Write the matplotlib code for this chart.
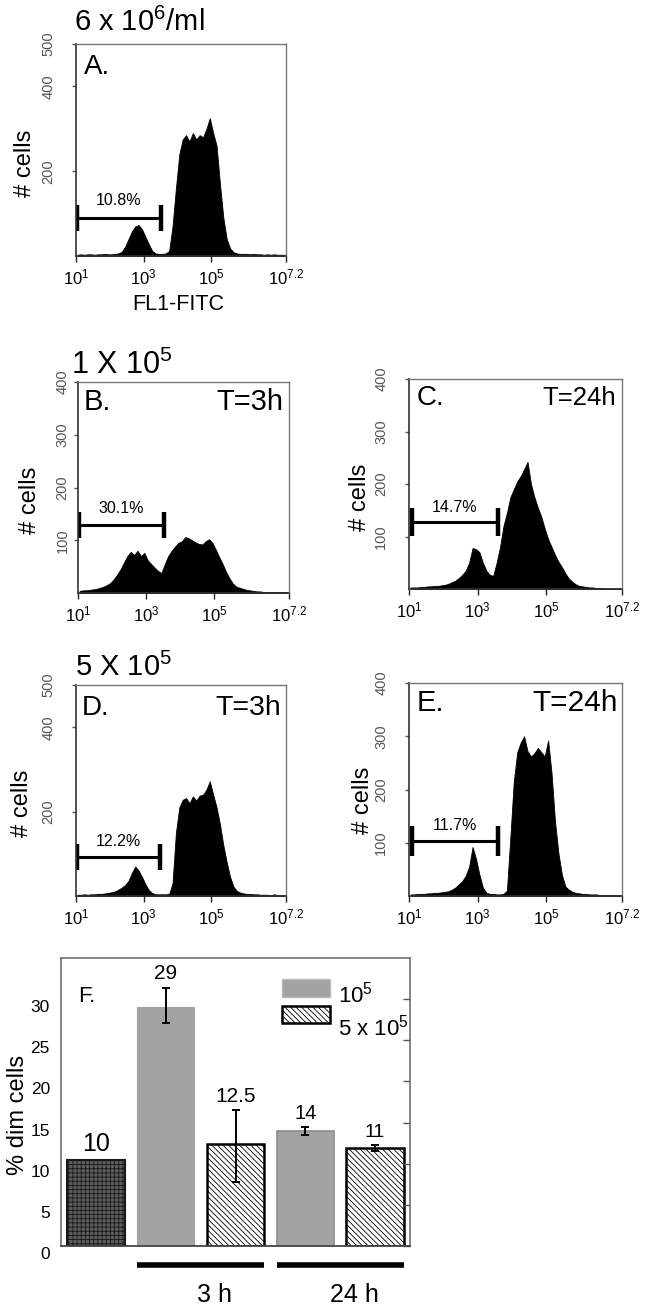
import numpy as np
import matplotlib
matplotlib.use('Agg')
import matplotlib.pyplot as plt
from matplotlib.patches import Rectangle
import matplotlib.transforms as mtransforms

plt.rcParams['font.family'] = ['Liberation Sans', 'DejaVu Sans']
plt.rcParams['mathtext.fontset'] = 'custom'
plt.rcParams['mathtext.rm'] = 'Liberation Sans'
plt.rcParams['mathtext.it'] = 'Liberation Sans:italic'
plt.rcParams['mathtext.default'] = 'regular'
plt.rcParams['hatch.linewidth'] = 0.6

# ---------------- data ----------------
log_edges = np.linspace(1.0, 7.2, 63)          # log10(FL1) bin edges
x_ticks = [1, 3, 5, 7.2]
x_ticklabels = ['$10^{1}$', '$10^{3}$', '$10^{5}$', '$10^{7.2}$']

hist_A = [3, 4, 3, 4, 4, 3, 4, 4, 5, 4,
          4, 5, 6, 10, 22, 40, 58, 70, 73, 63,
          45, 28, 12, 6, 5, 5, 6, 12, 70, 160,
          240, 275, 285, 270, 290, 275, 285, 280, 300, 325,
          290, 260, 170, 90, 40, 18, 9, 6, 5, 5,
          5, 4, 5, 4, 4, 3, 4, 3, 4, 3, 3, 3]
hist_B = [4, 5, 5, 6, 7, 8, 10, 12, 15, 19,
          26, 35, 45, 58, 70, 78, 72, 80, 70, 76,
          62, 55, 48, 42, 38, 55, 70, 80, 88, 95,
          98, 106, 104, 100, 96, 93, 92, 98, 102, 95,
          82, 68, 55, 40, 28, 18, 12, 10, 8, 6,
          5, 4, 3, 3, 2, 2, 2, 2, 2, 2, 2, 2]
hist_C = [3, 3, 3, 4, 4, 5, 5, 6, 6, 7,
          8, 10, 13, 16, 21, 27, 35, 50, 78, 76,
          70, 50, 35, 27, 25, 50, 80, 120, 145, 175,
          190, 205, 215, 228, 242, 200, 175, 155, 138, 115,
          95, 80, 65, 52, 42, 30, 20, 14, 9, 6,
          5, 4, 3, 3, 2, 2, 1, 1, 1, 1, 1, 1]
hist_D = [3, 3, 4, 3, 4, 4, 5, 5, 6, 7,
          9, 11, 15, 20, 26, 36, 55, 70, 60, 45,
          28, 14, 7, 4, 4, 4, 4, 5, 30, 150,
          210, 228, 232, 220, 236, 226, 238, 240, 252, 272,
          240, 210, 170, 120, 80, 45, 22, 12, 8, 6,
          5, 5, 4, 4, 3, 3, 3, 2, 4, 2, 2, 2]
hist_E = [3, 3, 4, 4, 4, 5, 5, 6, 6, 7,
          8, 9, 12, 16, 22, 28, 38, 55, 92, 70,
          40, 16, 6, 4, 4, 3, 3, 4, 10, 110,
          215, 270, 288, 300, 272, 262, 268, 278, 270, 262,
          292, 230, 140, 80, 40, 18, 12, 8, 6, 5,
          4, 4, 3, 3, 3, 2, 2, 2, 2, 2, 2, 2]

# gate markers (log start, log end, y level, cap half height) and % labels
gate_start = [1.02, 1.02, 1.08, 1.02, 1.08]
gate_end = [3.51, 3.53, 3.59, 3.48, 3.59]
gate_y = [90, 129, 128, 92, 103]
gate_cap = [31, 25, 27, 31, 28]
pct_labels = ['10.8%', '30.1%', '14.7%', '12.2%', '11.7%']
pct_y = [132, 161, 156, 128, 133]

# panel F
bar_pos = [0, 1, 2, 3, 4]
bar_vals = [10.4, 29.0, 12.4, 14.0, 11.9]
err_low = [10.4, 27.1, 7.8, 13.5, 11.5]
err_high = [10.4, 31.4, 16.5, 14.5, 12.3]
bar_text = ['10', '29', '12.5', '14', '11']
f_yticks = [0, 5, 10, 15, 20, 25, 30]
legend_labels = ['$10^{5}$', '5 x $10^{5}$']
group_labels = ['3 h', '24 h']

# ---------------- layout ----------------
W, H = 650, 1309
fig = plt.figure(figsize=(W / 100, H / 100), dpi=100)


def px_box(l, t, r, b):
    return [l / W, 1 - b / H, (r - l) / W, (b - t) / H]


def ftext(x, y, s, **kw):
    return fig.text(x / W, 1 - y / H, s, **kw)


def hist_panel(box, counts, ymax, yticks, i, ypad):
    ax = fig.add_axes(px_box(*box))
    centers = (log_edges[:-1] + log_edges[1:]) / 2
    ax.fill_between(centers, counts, 0, color='black', lw=0.6,
                    edgecolor='black')
    ax.set_xlim(1, 7.2)
    ax.set_ylim(0, ymax)
    ax.set_xticks(x_ticks)
    ax.set_xticklabels(x_ticklabels, fontsize=12)
    ax.set_yticks(yticks)
    ax.set_yticklabels([str(v) for v in yticks], rotation=90, va='center',
                       fontsize=10.5, color='#3a3a3a')
    ax.tick_params(axis='x', length=4, width=1, pad=4, colors='#222222',
                   labelcolor='black')
    ax.tick_params(axis='y', length=3, width=1, pad=ypad, colors='#555555')
    for s in ['top', 'right']:
        ax.spines[s].set_color('#777777')
        ax.spines[s].set_linewidth(1.0)
    for s in ['left', 'bottom']:
        ax.spines[s].set_color('#333333')
        ax.spines[s].set_linewidth(1.2)
    # gate
    ax.plot([gate_start[i], gate_end[i]], [gate_y[i], gate_y[i]],
            color='black', lw=2.2, solid_capstyle='butt')
    for gx in (gate_start[i], gate_end[i]):
        ax.plot([gx, gx], [gate_y[i] - gate_cap[i], gate_y[i] + gate_cap[i]],
                color='black', lw=3.2, solid_capstyle='butt')
    ax.text((gate_start[i] + gate_end[i]) / 2, pct_y[i], pct_labels[i],
            ha='center', va='center', fontsize=11.5)
    return ax


axA = hist_panel((76, 44, 286, 256), hist_A, 500, [200, 400, 500], 0, 12)
axB = hist_panel((78, 382, 289, 593), hist_B, 400, [100, 200, 300, 400], 1, 3)
axC = hist_panel((409, 379, 622, 589), hist_C, 400, [100, 200, 300, 400], 2, 12)
axD = hist_panel((76, 685, 286, 896), hist_D, 500, [200, 400, 500], 3, 12)
axE = hist_panel((409, 683, 622, 896), hist_E, 400, [100, 200, 300, 400], 4, 12)

# titles / labels
ftext(74, 22, '6 x $10^{6}$/ml', fontsize=21, ha='left', va='center')
ftext(71, 365, '1 X $10^{5}$', fontsize=22, ha='left', va='center')
ftext(75, 667, '5 X $10^{5}$', fontsize=21, ha='left', va='center')
ftext(178, 305, 'FL1-FITC', fontsize=15.5, ha='center', va='center')

for (x, y) in [(25, 163), (30, 500), (360, 497), (22, 803), (363, 800)]:
    ftext(x, y, '# cells', fontsize=17, rotation=90, ha='center', va='center')

ftext(84, 67, 'A.', fontsize=20, ha='left', va='center')
ftext(84, 402, 'B.', fontsize=21, ha='left', va='center')
ftext(417, 398, 'C.', fontsize=20, ha='left', va='center')
ftext(82, 708, 'D.', fontsize=20, ha='left', va='center')
ftext(417, 703, 'E.', fontsize=21, ha='left', va='center')
ftext(283, 402, 'T=3h', fontsize=21, ha='right', va='center')
ftext(616, 398, 'T=24h', fontsize=18.5, ha='right', va='center')
ftext(281, 708, 'T=3h', fontsize=20.5, ha='right', va='center')
ftext(618, 703, 'T=24h', fontsize=21.5, ha='right', va='center')

# ---------------- panel F ----------------
axF = fig.add_axes(px_box(61, 958, 410, 1246))
face = ['#5c5c5c', '#a3a3a3', 'white', '#a3a3a3', 'white']
edge = ['#1a1a1a', '#a3a3a3', 'black', '#8c8c8c', 'black']
hatch = ['++++', None, '\\\\\\\\\\\\', None, '\\\\\\\\\\\\']
lws = [1.5, 0.8, 1.8, 1.2, 1.8]
bars = axF.bar(bar_pos, bar_vals, width=0.82, color=face, edgecolor=edge,
               linewidth=lws)
for b, h in zip(bars, hatch):
    if h:
        b.set_hatch(h)

vals = np.array(bar_vals)
lo = vals - np.array(err_low)
hi = np.array(err_high) - vals
axF.errorbar(bar_pos[1:], vals[1:], yerr=[lo[1:], hi[1:]], fmt='none',
             ecolor='black', elinewidth=1.4, capsize=3, capthick=1.4)
text_sizes = [18, 15, 15, 14.5, 14]
for x, top, s, fs in zip(bar_pos, np.maximum(vals, err_high), bar_text,
                         text_sizes):
    axF.annotate(s, (x, top), xytext=(0, 3), textcoords='offset points',
                 ha='center', va='bottom', fontsize=fs)

axF.set_xlim(-0.5, 4.5)
axF.set_ylim(0, 35)
axF.set_xticks([])
axF.set_yticks(f_yticks)
axF.set_yticklabels([str(v) for v in f_yticks], fontsize=12.5)
axF.tick_params(axis='y', left=False, right=True, direction='in', length=5,
                width=1, pad=8, colors='#555555', labelcolor='black')
off = mtransforms.ScaledTranslation(0, -5 / 72, fig.dpi_scale_trans)
for lab in axF.get_yticklabels():
    lab.set_transform(lab.get_transform() + off)
for s in ['top', 'right', 'left']:
    axF.spines[s].set_color('#666666')
    axF.spines[s].set_linewidth(1.1)
axF.spines['bottom'].set_color('#444444')
axF.spines['bottom'].set_linewidth(1.3)
ftext(18, 1115, '% dim cells', fontsize=17, rotation=90, ha='center',
      va='center')
axF.text(0.049, 0.865, 'F.', transform=axF.transAxes, fontsize=16,
         ha='left', va='center')

# legend (manual)
axF.add_patch(Rectangle((0.633, 0.865), 0.138, 0.062, transform=axF.transAxes,
                        facecolor='#a3a3a3', edgecolor='#bbbbbb', lw=1))
axF.add_patch(Rectangle((0.633, 0.774), 0.138, 0.059, transform=axF.transAxes,
                        facecolor='white', edgecolor='black', lw=1.8,
                        hatch='\\\\\\\\\\\\'))
axF.text(0.794, 0.872, legend_labels[0], transform=axF.transAxes,
         fontsize=16, ha='left', va='center')
axF.text(0.794, 0.760, legend_labels[1], transform=axF.transAxes,
         fontsize=16, ha='left', va='center')

# group bars below
trans = mtransforms.blended_transform_factory(axF.transData, axF.transAxes)
groups = [(1, 2), (3, 4)]
for (g0, g1), lab in zip(groups, group_labels):
    axF.plot([bar_pos[g0] - 0.41, bar_pos[g1] + 0.41], [-0.066, -0.066],
             transform=trans, color='black', lw=4, solid_capstyle='butt',
             clip_on=False)
    axF.text((bar_pos[g0] + bar_pos[g1]) / 2 + 0.2, -0.128, lab,
             transform=trans, ha='center', va='top', fontsize=18)

fig.savefig('out.png', dpi=100)
